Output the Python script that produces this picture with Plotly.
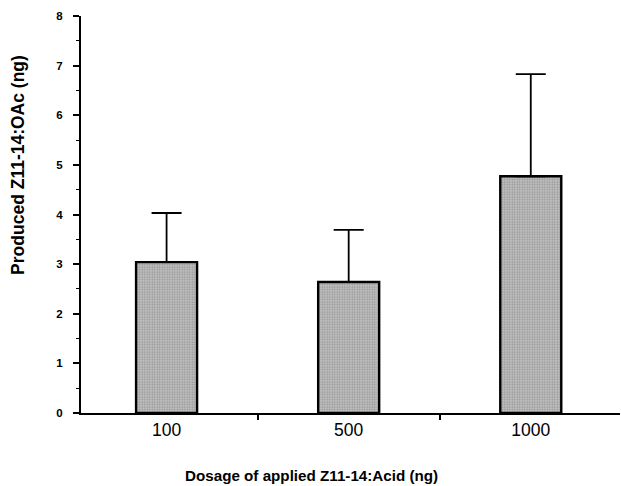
import plotly.graph_objects as go

dosage = ["100", "500", "1000"]
mean_ng = [3.04, 2.64, 4.77]
upper_ng = [4.03, 3.69, 6.83]

err_plus = [u - m for u, m in zip(upper_ng, mean_ng)]

fig = go.Figure()
fig.add_trace(go.Bar(
    x=dosage, y=mean_ng, width=0.335,
    marker=dict(color="#bdbdbd",
                line=dict(color="black", width=2.4),
                pattern=dict(shape=".", fgcolor="#666666", bgcolor="#c6c6c6",
                             size=2.5, solidity=0.45, fillmode="overlay")),
    error_y=dict(type="data", symmetric=False, array=err_plus,
                 arrayminus=[0, 0, 0], color="black", thickness=1.8, width=15),
))

fig.update_layout(
    width=621, height=486,
    margin=dict(l=81, r=1, t=16, b=73),
    paper_bgcolor="white", plot_bgcolor="white",
    showlegend=False,
    font=dict(family="Liberation Sans, Arial, sans-serif", color="black"),
    xaxis=dict(type="category", range=[-0.47, 2.49],
               showline=True, linecolor="black", linewidth=2,
               ticks="outside", tickson="boundaries", ticklen=5, tickwidth=1.5,
               tickcolor="black", tickfont=dict(size=17.5), showgrid=False,
               zeroline=False),
    yaxis=dict(range=[0, 8], dtick=1, showline=True, linecolor="black",
               linewidth=2, ticks="outside", ticklen=6, tickwidth=1.5,
               tickcolor="black", tickfont=dict(size=11.5, family="Liberation Sans, Arial", weight="bold"),
               ticklabelstandoff=8,
               minor=dict(dtick=0.5, ticks="outside", ticklen=3, tickcolor="black", tickwidth=1.2),
               showgrid=False, zeroline=False),
)

fig.add_annotation(text="<b>Dosage of applied Z11-14:Acid (ng)</b>",
                   xref="paper", yref="paper", x=0.427, y=0, yshift=-62,
                   showarrow=False, font=dict(size=15.2), xanchor="center", yanchor="middle")
fig.add_annotation(text="<b>Produced Z11-14:OAc (ng)</b>",
                   xref="paper", yref="paper", x=0, xshift=-63, y=0.625,
                   textangle=-90, showarrow=False, font=dict(size=17.5),
                   xanchor="center", yanchor="middle")

fig.write_html("out.html")
